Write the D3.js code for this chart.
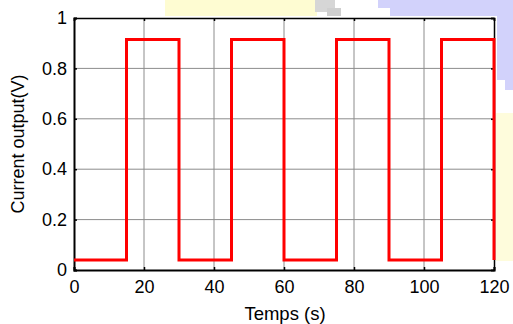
<!DOCTYPE html>
<html>
<head>
<meta charset="utf-8">
<script src="https://cdn.jsdelivr.net/npm/d3@7"></script>
<style>
  body { margin: 0; background: #fff; }
  svg { display: block; font-family: "Liberation Sans", Arial, sans-serif; }
</style>
</head>
<body>
<svg id="chart" width="513" height="324"></svg>
<script>
// step times (s) and output levels (V) of the square wave
const times = [0, 15, 15, 30, 30, 45, 45, 60, 60, 75, 75, 90, 90, 105, 105, 120, 120];
const levels = [0.04, 0.04, 0.915, 0.915, 0.04, 0.04, 0.915, 0.915, 0.04, 0.04, 0.915, 0.915, 0.04, 0.04, 0.915, 0.915, 0.04];
const xTicks = [0, 20, 40, 60, 80, 100, 120];
const yTicks = [0, 0.2, 0.4, 0.6, 0.8, 1];

const margin = { top: 18, right: 19, bottom: 54, left: 74 };
const width = 513, height = 324;
const svg = d3.select('#chart');

// background blotches from the scanned page
const bg = svg.append('g');
bg.append('rect').attr('x', 165).attr('y', 0).attr('width', 152).attr('height', 16).attr('fill', '#fefcd2');
bg.append('rect').attr('x', 315).attr('y', 0).attr('width', 20).attr('height', 12).attr('fill', '#d6d6d6');
bg.append('rect').attr('x', 327).attr('y', 8).attr('width', 14).attr('height', 8).attr('fill', '#cfcfcf');
bg.append('path')
  .attr('d', 'M378,0 L513,0 L513,90 L505,90 L505,80 L497,80 L497,16 L390,16 L390,8 L378,8 Z')
  .attr('fill', '#d2d2fb');
bg.append('rect').attr('x', 496).attr('y', 113).attr('width', 17).attr('height', 148).attr('fill', '#fefcdc');

const x = d3.scaleLinear().domain([0, 120]).range([margin.left, width - margin.right]);
const y = d3.scaleLinear().domain([0, 1]).range([height - margin.bottom, margin.top]);

const plot = svg.append('g');
plot.append('rect')
  .attr('x', x(0)).attr('y', y(1))
  .attr('width', x(120) - x(0)).attr('height', y(0) - y(1))
  .attr('fill', '#fff');

// grid
plot.selectAll('.vgrid').data(xTicks.slice(1, -1)).enter()
  .append('line')
  .attr('x1', d => x(d)).attr('x2', d => x(d))
  .attr('y1', y(0)).attr('y2', y(1))
  .attr('stroke', '#8c8c8c').attr('stroke-width', 1);
plot.selectAll('.hgrid').data(yTicks.slice(1, -1)).enter()
  .append('line')
  .attr('x1', x(0)).attr('x2', x(120))
  .attr('y1', d => y(d)).attr('y2', d => y(d))
  .attr('stroke', '#8c8c8c').attr('stroke-width', 1);

// axes with inward ticks
const fmtY = d => d === 0 || d === 1 ? String(d) : d3.format('.1f')(d);
const xAxis = svg.append('g').attr('transform', `translate(0,${y(0)})`)
  .call(d3.axisBottom(x).tickValues(xTicks).tickSize(-3).tickPadding(10));
const yAxis = svg.append('g').attr('transform', `translate(${x(0)},0)`)
  .call(d3.axisLeft(y).tickValues(yTicks).tickSize(-3).tickPadding(7).tickFormat(fmtY));
const xTop = svg.append('g').attr('transform', `translate(0,${y(1)})`)
  .call(d3.axisTop(x).tickValues(xTicks).tickSize(-3).tickFormat(''));
const yRight = svg.append('g').attr('transform', `translate(${x(120)},0)`)
  .call(d3.axisRight(y).tickValues(yTicks).tickSize(-3).tickFormat(''));

[xAxis, yAxis, xTop, yRight].forEach(a => {
  a.select('.domain').attr('stroke', '#000').attr('stroke-width', 1.5);
  a.selectAll('.tick line').attr('stroke', '#000').attr('stroke-width', 1.5);
  a.selectAll('.tick text').attr('fill', '#000').attr('font-size', 18)
    .attr('font-family', '"Liberation Sans", Arial, sans-serif');
});
xAxis.select('.domain').attr('stroke-width', 2);
yAxis.select('.domain').attr('stroke-width', 2);

// signal
const line = d3.line()
  .x((d, i) => x(times[i]))
  .y(d => y(d));
svg.append('path')
  .datum(levels)
  .attr('d', line)
  .attr('fill', 'none')
  .attr('stroke', '#ff0000')
  .attr('stroke-width', 3)
  .attr('stroke-linejoin', 'miter');

// labels
svg.append('text')
  .attr('x', (x(0) + x(120)) / 2 + 1).attr('y', 320)
  .attr('text-anchor', 'middle').attr('font-size', 18.5)
  .text('Temps (s)');
svg.append('text')
  .attr('transform', `translate(24,${(y(0) + y(1)) / 2}) rotate(-90)`)
  .attr('text-anchor', 'middle').attr('font-size', 18)
  .text('Current output(V)');
</script>
</body>
</html>
